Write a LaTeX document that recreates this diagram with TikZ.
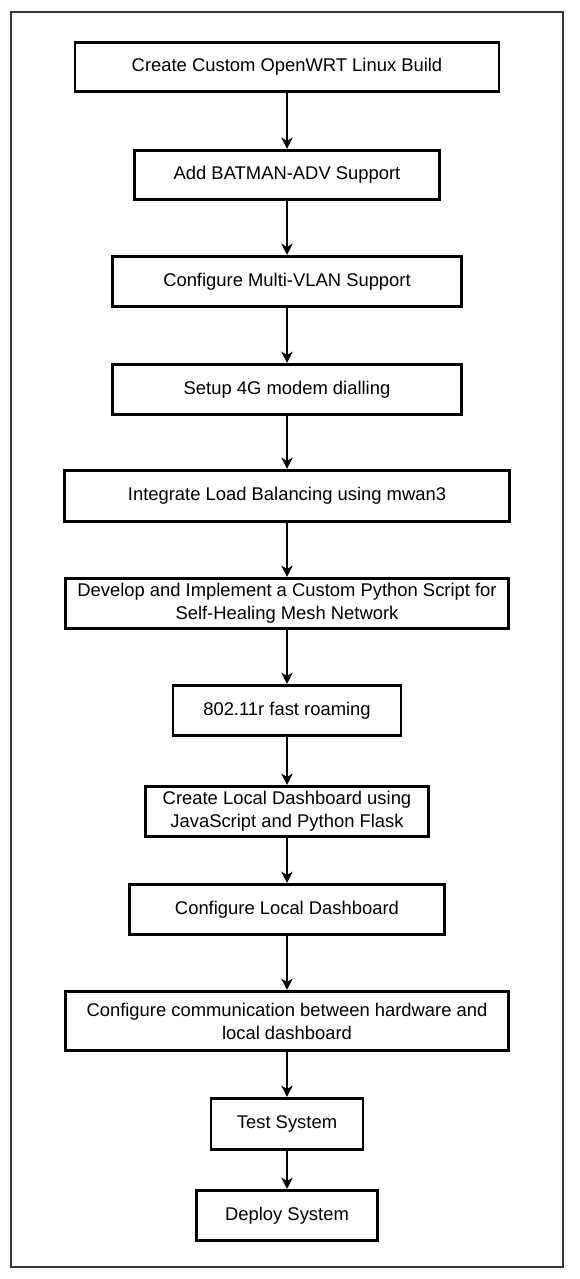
\documentclass[tikz,border=0pt]{standalone}
\usepackage{fontspec}
\setmainfont{Liberation Sans}
\usetikzlibrary{arrows.meta}

\begin{document}
\begin{tikzpicture}[x=0.75pt, y=-0.75pt,
    stage/.style={rectangle, draw, line width=2.1pt, fill=white, align=center, inner sep=2pt, font=\fontsize{13.8}{17.3}\selectfont},
    flow/.style={-{Stealth[length=8.5pt, width=8.5pt, inset=2.5pt]}, line width=1.1pt}] % sizes in pixels of the page

        \useasboundingbox (0,0) rectangle (579,1279);

        % Outer frame round the whole flow
        \draw[line width=0.9pt, draw=black!78] (11,12) rectangle (563,1267);

        % Define the 12 stages from top to bottom
        \node[stage, minimum width=318pt, minimum height=37pt] (build) at (287, 67) {Create Custom OpenWRT Linux Build};
        \node[stage, minimum width=229pt, minimum height=37pt] (batman) at (287, 175) {Add BATMAN-ADV Support};
        \node[stage, minimum width=262pt, minimum height=37.7pt] (vlan) at (287, 281.5) {Configure Multi-VLAN Support};
        \node[stage, minimum width=262pt, minimum height=37.7pt] (modem) at (287, 389.5) {Setup 4G modem dialling};
        \node[stage, minimum width=334pt, minimum height=38.5pt] (mwan) at (287, 496) {Integrate Load Balancing using mwan3};
        \node[stage, minimum width=332.5pt, minimum height=37.7pt] (selfheal) at (287, 603.5) {Develop and Implement a Custom Python Script for\\Self-Healing Mesh Network};
        \node[stage, minimum width=171pt, minimum height=37.7pt] (roaming) at (287, 710.5) {802.11r fast roaming};
        \node[stage, minimum width=212.5pt, minimum height=37.7pt] (dashcreate) at (287, 811.5) {Create Local Dashboard using\\JavaScript and Python Flask};
        \node[stage, minimum width=236pt, minimum height=37.7pt] (dashconf) at (287, 909.5) {Configure Local Dashboard};
        \node[stage, minimum width=332.5pt, minimum height=44.5pt] (comms) at (287, 1021) {Configure communication between hardware and\\local dashboard};
        \node[stage, minimum width=114pt, minimum height=38.5pt] (test) at (287, 1124) {Test System};
        \node[stage, minimum width=136pt, minimum height=37.7pt] (deploy) at (287, 1215.5) {Deploy System};

        % Draw arrows from each stage to the next one
        \draw[flow] (build) -- (batman);
        \draw[flow] (batman) -- (vlan);
        \draw[flow] (vlan) -- (modem);
        \draw[flow] (modem) -- (mwan);
        \draw[flow] (mwan) -- (selfheal);
        \draw[flow] (selfheal) -- (roaming);
        \draw[flow] (roaming) -- (dashcreate);
        \draw[flow] (dashcreate) -- (dashconf);
        \draw[flow] (dashconf) -- (comms);
        \draw[flow] (comms) -- (test);
        \draw[flow] (test) -- (deploy);
\end{tikzpicture}
\end{document}
